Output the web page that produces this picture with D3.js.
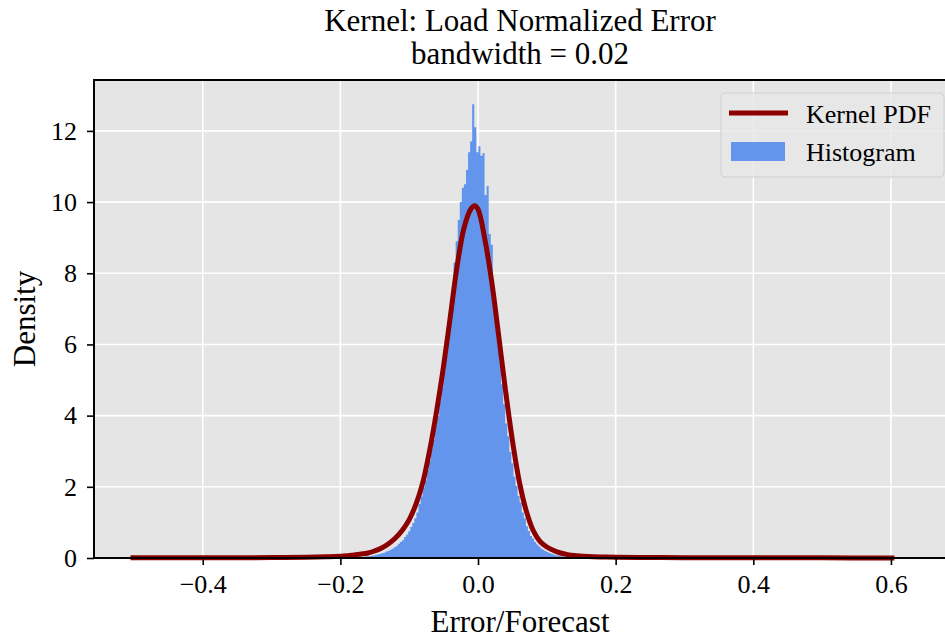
<!DOCTYPE html>
<html lang="en">
	<head>
		<meta charset="utf-8">
		<title>Kernel: Load Normalized Error</title>
		<script src="https://cdn.jsdelivr.net/npm/d3@7"></script>
		<style type="text/css">
			body { margin: 0; background: #fff; }
			text { font-family: "Liberation Serif", "Times New Roman", serif; fill: #000; }
		</style>
	</head>
	<body>
		<script type="text/javascript">

			//Width and height
			var w = 945;
			var h = 639;

			//Histogram bins: left edge of first bin and bin width
			var histStart = -0.1735;
			var histWidth = 0.003;

			//Density of each bin, left to right
			var histDensity = [
				0.02, 0.03, 0.03, 0.04, 0.05, 0.05, 0.06, 0.07, 0.09, 0.10,
				0.12, 0.13, 0.15, 0.18, 0.20, 0.23, 0.26, 0.30, 0.34, 0.40,
				0.45, 0.50, 0.59, 0.66, 0.75, 0.87, 0.98, 1.12, 1.28, 1.52,
				1.73, 1.99, 2.18, 2.47, 2.73, 3.08, 3.33, 3.72, 3.98, 4.42,
				4.78, 5.24, 5.68, 6.22, 6.78, 7.45, 8.30, 8.90, 9.50, 10.00,
				10.40, 10.50, 10.90, 11.40, 11.70, 12.75, 12.10, 11.40, 11.57, 11.30,
				11.38, 10.20, 10.45, 9.10, 8.80, 7.60, 6.90, 6.10, 5.52, 4.88,
				4.32, 3.78, 3.42, 2.98, 2.66, 2.28, 2.02, 1.74, 1.56, 1.28,
				1.12, 0.89, 0.76, 0.62, 0.55, 0.45, 0.38, 0.32, 0.27, 0.23,
				0.20, 0.17, 0.14, 0.12, 0.10, 0.08, 0.07, 0.06, 0.05, 0.04,
				0.03, 0.03, 0.02
			];

			//Kernel PDF curve
			var kdeX = [
				-0.505, -0.45, -0.40, -0.35, -0.30, -0.25, -0.22, -0.20, -0.18, -0.16,
				-0.15, -0.14, -0.13, -0.12, -0.11, -0.10, -0.09, -0.08, -0.07, -0.06,
				-0.05, -0.04, -0.03, -0.02, -0.01, -0.005, 0.00, 0.01, 0.02, 0.03,
				0.04, 0.05, 0.06, 0.07, 0.08, 0.09, 0.10, 0.11, 0.12, 0.13,
				0.14, 0.16, 0.18, 0.20, 0.25, 0.30, 0.40, 0.50, 0.605
			];
			var kdeY = [
				0.004, 0.005, 0.006, 0.008, 0.011, 0.02, 0.034, 0.05, 0.085, 0.14,
				0.20, 0.28, 0.40, 0.56, 0.78, 1.08, 1.52, 2.14, 3.05, 4.15,
				5.40, 6.82, 8.25, 9.30, 9.82, 9.90, 9.80, 8.95, 7.75, 6.25,
				4.70, 3.30, 2.15, 1.33, 0.78, 0.47, 0.31, 0.21, 0.14, 0.095,
				0.068, 0.043, 0.03, 0.022, 0.013, 0.009, 0.006, 0.004, 0.003
			];

			var xTicks = [-0.4, -0.2, 0.0, 0.2, 0.4, 0.6];
			var yTicks = [0, 2, 4, 6, 8, 10, 12];

			var titleLines = ["Kernel: Load Normalized Error", "bandwidth = 0.02"];
			var legendLabels = ["Kernel PDF", "Histogram"];

			//Plot area
			var plotLeft = 94, plotRight = 946, plotTop = 80, plotBottom = 558;

			var xScale = d3.scaleLinear().domain([-0.558, 0.680]).range([plotLeft, plotRight]);
			var yScale = d3.scaleLinear().domain([0, 13.43]).range([plotBottom, plotTop]);

			//Create SVG element
			var svg = d3.select("body")
						.append("svg")
						.attr("width", w)
						.attr("height", h);

			//Background
			svg.append("rect")
			   .attr("x", plotLeft)
			   .attr("y", plotTop)
			   .attr("width", plotRight - plotLeft)
			   .attr("height", plotBottom - plotTop)
			   .attr("fill", "#e5e5e5");

			//Grid lines
			svg.selectAll("line.gx")
			   .data(xTicks)
			   .enter()
			   .append("line")
			   .attr("class", "gx")
			   .attr("x1", function(d) { return xScale(d); })
			   .attr("x2", function(d) { return xScale(d); })
			   .attr("y1", plotTop)
			   .attr("y2", plotBottom)
			   .attr("stroke", "#fff")
			   .attr("stroke-width", 1.6);

			svg.selectAll("line.gy")
			   .data(yTicks)
			   .enter()
			   .append("line")
			   .attr("class", "gy")
			   .attr("x1", plotLeft)
			   .attr("x2", plotRight)
			   .attr("y1", function(d) { return yScale(d); })
			   .attr("y2", function(d) { return yScale(d); })
			   .attr("stroke", "#fff")
			   .attr("stroke-width", 1.6);

			//Histogram as one stepped area, so the bars have no seams
			var bins = histDensity.map(function(d, i) {
				return [histStart + i * histWidth, d];
			});
			bins.push([histStart + histDensity.length * histWidth, histDensity[histDensity.length - 1]]);

			var histArea = d3.area()
							 .x(function(d) { return xScale(d[0]); })
							 .y0(yScale(0))
							 .y1(function(d) { return yScale(d[1]); })
							 .curve(d3.curveStepAfter);

			svg.append("path")
			   .datum(bins)
			   .attr("d", histArea)
			   .attr("fill", "#6495ed");

			//Kernel PDF line
			var kde = kdeX.map(function(x, i) { return [x, kdeY[i]]; });
			var line = d3.line()
						 .x(function(d) { return xScale(d[0]); })
						 .y(function(d) { return yScale(d[1]); })
						 .curve(d3.curveCatmullRom.alpha(0.5));

			svg.append("path")
			   .datum(kde)
			   .attr("d", line)
			   .attr("fill", "none")
			   .attr("stroke", "#8b0000")
			   .attr("stroke-width", 5)
			   .attr("stroke-linejoin", "round");

			//Axes
			var xAxis = d3.axisBottom(xScale)
						  .tickValues(xTicks)
						  .tickSize(7)
						  .tickPadding(10)
						  .tickFormat(function(d) {
						  	return d === 0 ? "0.0" : d3.format(".1f")(d).replace("-", "\u2212");
						  });
			var yAxis = d3.axisLeft(yScale)
						  .tickValues(yTicks)
						  .tickSize(7)
						  .tickPadding(10)
						  .tickFormat(d3.format("d"));

			var gx = svg.append("g")
						.attr("transform", "translate(0," + plotBottom + ")")
						.call(xAxis);
			var gy = svg.append("g")
						.attr("transform", "translate(" + plotLeft + ",0)")
						.call(yAxis);

			[gx, gy].forEach(function(g) {
				g.select(".domain").remove();
				g.selectAll(".tick line").attr("stroke", "#000").attr("stroke-width", 1.6);
				g.selectAll(".tick text")
				 .attr("font-family", "Liberation Serif")
				 .attr("font-size", "26px")
				 .attr("fill", "#000");
			});

			//Spines: left, bottom, top
			svg.append("path")
			   .attr("d", "M" + plotRight + "," + plotTop + "H" + plotLeft + "V" + plotBottom + "H" + plotRight)
			   .attr("fill", "none")
			   .attr("stroke", "#000")
			   .attr("stroke-width", 2);

			//Title
			svg.selectAll("text.title")
			   .data(titleLines)
			   .enter()
			   .append("text")
			   .attr("class", "title")
			   .attr("x", (plotLeft + plotRight) / 2)
			   .attr("y", function(d, i) { return 31 + i * 33; })
			   .attr("text-anchor", "middle")
			   .attr("font-size", "31px")
			   .text(function(d) { return d; });

			//Axis labels
			svg.append("text")
			   .attr("x", (plotLeft + plotRight) / 2)
			   .attr("y", 632)
			   .attr("text-anchor", "middle")
			   .attr("font-size", "31px")
			   .text("Error/Forecast");

			svg.append("text")
			   .attr("transform", "translate(35," + (plotTop + plotBottom) / 2 + ") rotate(-90)")
			   .attr("text-anchor", "middle")
			   .attr("font-size", "31px")
			   .text("Density");

			//Legend
			var legend = svg.append("g");
			legend.append("rect")
				  .attr("x", 721)
				  .attr("y", 93)
				  .attr("width", 223)
				  .attr("height", 84)
				  .attr("rx", 4)
				  .attr("fill", "#e8e8e8")
				  .attr("fill-opacity", 0.85)
				  .attr("stroke", "#d0d0d0")
				  .attr("stroke-width", 1);
			legend.append("line")
				  .attr("x1", 729)
				  .attr("x2", 788)
				  .attr("y1", 113)
				  .attr("y2", 113)
				  .attr("stroke", "#8b0000")
				  .attr("stroke-width", 5);
			legend.append("rect")
				  .attr("x", 731)
				  .attr("y", 142)
				  .attr("width", 54)
				  .attr("height", 19)
				  .attr("fill", "#6495ed");
			legend.selectAll("text")
				  .data(legendLabels)
				  .enter()
				  .append("text")
				  .attr("x", 806)
				  .attr("y", function(d, i) { return 123 + i * 38; })
				  .attr("font-size", "26px")
				  .text(function(d) { return d; });

		</script>
	</body>
</html>
